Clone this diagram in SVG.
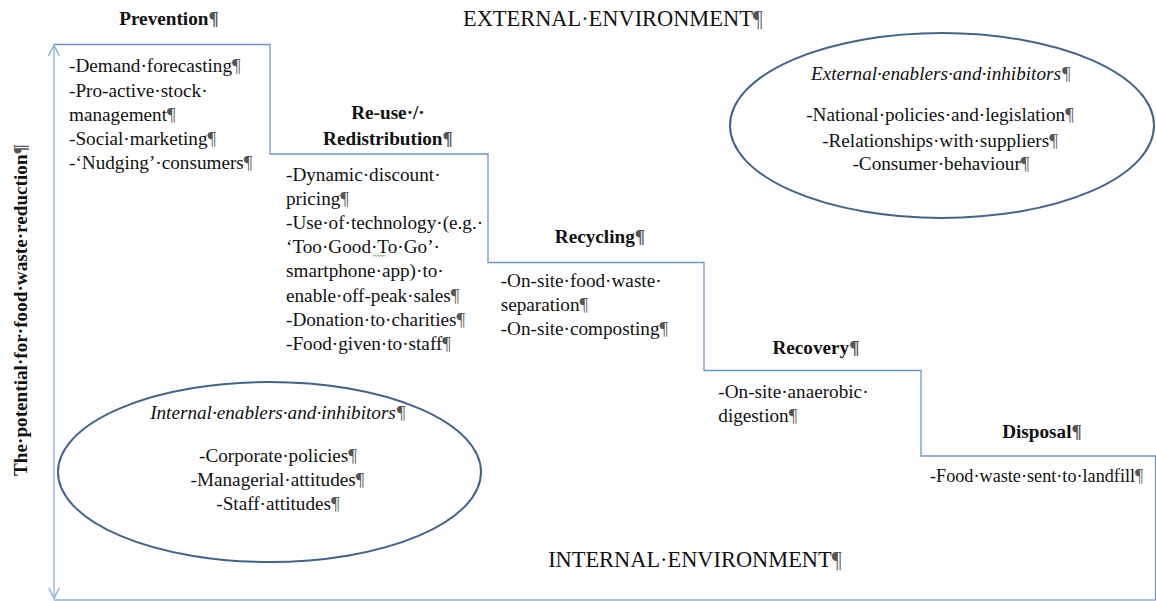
<svg xmlns="http://www.w3.org/2000/svg" width="1156" height="601" viewBox="0 0 1156 601">
  <style>
    text { font-family: "Liberation Serif", "Times New Roman", serif; fill: #111; }
    .body { font-size: 19.2px; }
    .head { font-size: 19.2px; font-weight: bold; text-anchor: middle; }
    .env { font-size: 22.4px; text-anchor: middle; }
    .ell { font-size: 19.2px; text-anchor: middle; }
    .it { font-style: italic; }
    .pm { fill: #555; }
    .step { fill: none; stroke: #6f95cb; stroke-width: 1.3; }
    .axis { fill: none; stroke: #8eaedb; stroke-width: 1.3; }
    .oval { fill: none; stroke: #41648f; stroke-width: 2; }
  </style>
  <defs>
    <marker id="vee" viewBox="0 0 12 12" refX="11" refY="6" markerWidth="12" markerHeight="12" markerUnits="userSpaceOnUse" orient="auto-start-reverse">
      <path d="M0,0.5 L11,6 L0,11.5" fill="none" stroke="#8eaedb" stroke-width="1.3"/>
    </marker>
  </defs>

  <rect width="1156" height="601" fill="#fff"/>

  <!-- staircase, axis and baseline -->
  <g id="connectors">
    <line class="axis" x1="54" y1="45" x2="54" y2="598.5" marker-start="url(#vee)" marker-end="url(#vee)"/>
    <line class="axis" x1="54" y1="600" x2="1156" y2="600"/>
    <path class="step" d="M54,44.5 H270 V154 H488 V262.5 H704 V370.5 H921 V456 H1155.5 V600"/>
  </g>

  <g id="titles">
    <text class="env" x="613" y="26">EXTERNAL·ENVIRONMENT<tspan class="pm">¶</tspan></text>
    <text class="env" x="695" y="567">INTERNAL·ENVIRONMENT<tspan class="pm">¶</tspan></text>
    <text class="head" transform="translate(27,310) rotate(-90)">The·potential·for·food·waste·reduction<tspan class="pm">¶</tspan></text>
  </g>

  <g id="prevention">
    <text class="head" x="169" y="25">Prevention<tspan class="pm">¶</tspan></text>
    <text class="body" x="69" y="72">-Demand·forecasting<tspan class="pm">¶</tspan></text>
    <text class="body" x="69" y="96.5">-Pro-active·stock·</text>
    <text class="body" x="69" y="120.7">management<tspan class="pm">¶</tspan></text>
    <text class="body" x="69" y="145">-Social·marketing<tspan class="pm">¶</tspan></text>
    <text class="body" x="69" y="169.3">-‘Nudging’·consumers<tspan class="pm">¶</tspan></text>
  </g>

  <g id="reuse">
    <text class="head" x="388" y="119.3">Re-use·/·</text>
    <text class="head" x="388" y="145">Redistribution<tspan class="pm">¶</tspan></text>
    <text class="body" x="286" y="180.5">-Dynamic·discount·</text>
    <text class="body" x="286" y="204.7">pricing<tspan class="pm">¶</tspan></text>
    <text class="body" x="286" y="228.9">-Use·of·technology·(e.g.·</text>
    <text class="body" x="286" y="253.1">‘Too·Good·To·Go’·</text>
    <path d="M373,256.5 l1.6,-1.6 l1.6,1.6 l1.6,-1.6 l1.6,1.6 l1.6,-1.6 l1.6,1.6 l1.6,-1.6 l1.6,1.6" fill="none" stroke="#4caf50" stroke-width="0.9"/>
    <text class="body" x="286" y="277.3">smartphone·app)·to·</text>
    <text class="body" x="286" y="301.5">enable·off-peak·sales<tspan class="pm">¶</tspan></text>
    <text class="body" x="286" y="325.7">-Donation·to·charities<tspan class="pm">¶</tspan></text>
    <text class="body" x="286" y="349.9">-Food·given·to·staff<tspan class="pm">¶</tspan></text>
  </g>

  <g id="recycling">
    <text class="head" x="600" y="243.3">Recycling<tspan class="pm">¶</tspan></text>
    <text class="body" x="500.7" y="286.7">-On-site·food·waste·</text>
    <text class="body" x="500.7" y="310.9">separation<tspan class="pm">¶</tspan></text>
    <text class="body" x="500.7" y="335">-On-site·composting<tspan class="pm">¶</tspan></text>
  </g>

  <g id="recovery">
    <text class="head" x="816" y="354.3">Recovery<tspan class="pm">¶</tspan></text>
    <text class="body" x="718.3" y="398.3">-On-site·anaerobic·</text>
    <text class="body" x="718.3" y="421.7">digestion<tspan class="pm">¶</tspan></text>
  </g>

  <g id="disposal">
    <text class="head" x="1042" y="438.3">Disposal<tspan class="pm">¶</tspan></text>
    <text class="body" x="930" y="482.3" style="font-size:18.2px">-Food·waste·sent·to·landfill<tspan class="pm">¶</tspan></text>
  </g>

  <g id="external-factors">
    <ellipse class="oval" cx="942" cy="125.5" rx="212" ry="92.5"/>
    <text class="ell it" x="941" y="80">External·enablers·and·inhibitors<tspan class="pm">¶</tspan></text>
    <text class="ell" x="940" y="121">-National·policies·and·legislation<tspan class="pm">¶</tspan></text>
    <text class="ell" x="940" y="146.7">-Relationships·with·suppliers<tspan class="pm">¶</tspan></text>
    <text class="ell" x="941" y="170">-Consumer·behaviour<tspan class="pm">¶</tspan></text>
  </g>

  <g id="internal-factors">
    <ellipse class="oval" cx="269.5" cy="472" rx="211.5" ry="90"/>
    <text class="ell it" x="278" y="419.3">Internal·enablers·and·inhibitors<tspan class="pm">¶</tspan></text>
    <text class="ell" x="278" y="461.7">-Corporate·policies<tspan class="pm">¶</tspan></text>
    <text class="ell" x="277.5" y="486">-Managerial·attitudes<tspan class="pm">¶</tspan></text>
    <text class="ell" x="278" y="510">-Staff·attitudes<tspan class="pm">¶</tspan></text>
  </g>
</svg>
